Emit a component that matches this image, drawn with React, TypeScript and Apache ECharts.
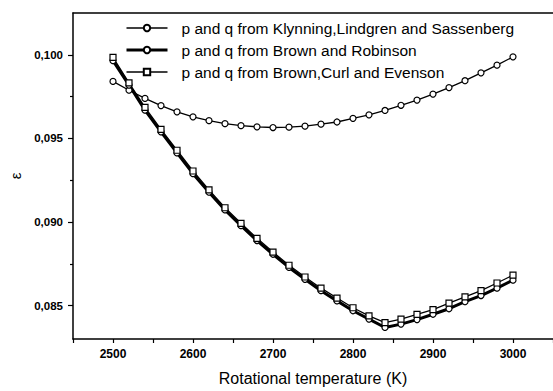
import React, { useEffect, useRef } from "react";
import * as echarts from "echarts";

const temperatures = [
  2500, 2520, 2540, 2560, 2580, 2600, 2620, 2640, 2660, 2680, 2700, 2720, 2740,
  2760, 2780, 2800, 2820, 2840, 2860, 2880, 2900, 2920, 2940, 2960, 2980, 3000,
];

const klynning = [
  0.09841, 0.09788, 0.09739, 0.09696, 0.09659, 0.09629, 0.09606, 0.09588,
  0.09576, 0.09569, 0.09565, 0.09567, 0.09573, 0.09585, 0.09598, 0.0962,
  0.09641, 0.09667, 0.09698, 0.09729, 0.09765, 0.09804, 0.09845, 0.09892,
  0.09938, 0.09988,
];

const brownRobinson = [
  0.09965, 0.09819, 0.09669, 0.09539, 0.09413, 0.09289, 0.09178, 0.09072,
  0.08978, 0.08889, 0.08807, 0.08728, 0.08657, 0.08589, 0.08528, 0.08469,
  0.08419, 0.08369, 0.08389, 0.08416, 0.08448, 0.08481, 0.08523, 0.0856,
  0.08604, 0.08652,
];

const brownCurl = [
  0.09985, 0.09832, 0.09686, 0.09554, 0.09429, 0.09305, 0.09192, 0.09085,
  0.08992, 0.08902, 0.0882, 0.08741, 0.08671, 0.08604, 0.08545, 0.08487,
  0.08438, 0.08398, 0.08419, 0.08447, 0.08476, 0.08514, 0.08552, 0.08589,
  0.08635, 0.08682,
];

const seriesNames = [
  "p and q from Klynning,Lindgren and Sassenberg",
  "p and q from Brown and Robinson",
  "p and q from Brown,Curl and Evenson",
];

const xTickLabels = [2500, 2600, 2700, 2800, 2900, 3000];
const yTickLabels = [0.085, 0.09, 0.095, 0.1];
const yMinorTicks = [0.0875, 0.0925, 0.0975];

const xTitle = "Rotational temperature (K)";
const yTitle = "ε";

const FONT = "'Liberation Sans', Arial, sans-serif";

export default function App() {
  const ref = useRef<HTMLDivElement>(null);

  useEffect(() => {
    if (!ref.current) return;
    const chart = echarts.init(ref.current, undefined, { renderer: "svg" });

    const pairs = (vals: number[]) => temperatures.map((t, i) => [t, vals[i]]);
    const widths = [1.3, 3, 1.3];

    const baseSeries = (name: string, vals: number[], symbol: string, lw: number) => ({
      name,
      type: "line",
      data: pairs(vals),
      symbol,
      symbolSize: 6,
      showSymbol: true,
      lineStyle: { color: "#000", width: lw },
      itemStyle: { color: "#fff", borderColor: "#000", borderWidth: 1.2 },
      emphasis: { disabled: true },
      xAxisIndex: 0,
      yAxisIndex: 0,
      z: 3,
    });

    chart.setOption({
      animation: false,
      backgroundColor: "#fff",
      textStyle: { fontFamily: FONT, color: "#000" },
      grid: { left: 63, right: -9, top: 13, bottom: 46, containLabel: false },
      legend: {
        orient: "vertical",
        left: 125,
        top: 20,
        padding: 0,
        itemWidth: 41,
        itemHeight: 8,
        itemGap: 6,
        data: seriesNames.map((n, i) => ({
          name: n,
          lineStyle: { width: widths[i], color: "#000" },
        })),
        textStyle: {
          fontFamily: FONT,
          fontSize: 15.5,
          lineHeight: 16,
          color: "#000",
          padding: [0, 0, 0, 9],
        },
        selectedMode: false,
      },
      xAxis: [
        {
          type: "value",
          position: "bottom",
          min: 2450,
          max: 3050,
          interval: 50,
          name: xTitle,
          nameLocation: "middle",
          nameGap: 31,
          nameTextStyle: { fontFamily: FONT, fontSize: 16, color: "#000" },
          axisLine: { show: true, onZero: false, lineStyle: { color: "#000", width: 1.5 } },
          axisTick: { show: true, inside: false, length: 4, lineStyle: { color: "#000", width: 1.2 } },
          axisLabel: {
            show: true,
            customValues: xTickLabels,
            margin: 9,
            fontFamily: FONT,
            fontSize: 12,
            fontWeight: "bold",
            color: "#000",
            formatter: (v: number) => String(v),
          },
          splitLine: { show: false },
        },
        {
          type: "value",
          position: "top",
          min: 2450,
          max: 3050,
          axisLine: { show: true, onZero: false, lineStyle: { color: "#000", width: 1.5 } },
          axisTick: { show: false },
          axisLabel: { show: false },
          splitLine: { show: false },
        },
      ],
      yAxis: [
        {
          type: "value",
          position: "left",
          min: 0.083,
          max: 0.1025,
          name: yTitle,
          nameLocation: "middle",
          nameGap: 50,
          nameTextStyle: { fontFamily: FONT, fontSize: 15, color: "#000" },
          axisLine: { show: true, onZero: false, lineStyle: { color: "#000", width: 1.5 } },
          axisTick: {
            show: true,
            inside: false,
            length: 5,
            customValues: yTickLabels,
            lineStyle: { color: "#000", width: 1.2 },
          },
          axisLabel: {
            show: true,
            customValues: yTickLabels,
            margin: 10,
            fontFamily: FONT,
            fontSize: 11.5,
            fontWeight: "bold",
            color: "#000",
            formatter: (v: number) => v.toFixed(3).replace(".", ","),
          },
          splitLine: { show: false },
        },
        {
          type: "value",
          position: "left",
          min: 0.083,
          max: 0.1025,
          axisLine: { show: false },
          axisTick: {
            show: true,
            inside: false,
            length: 3,
            customValues: yMinorTicks,
            lineStyle: { color: "#000", width: 1.2 },
          },
          axisLabel: { show: false },
          splitLine: { show: false },
        },
      ],
      series: [
        baseSeries(seriesNames[0], klynning, "circle", widths[0]),
        baseSeries(seriesNames[1], brownRobinson, "circle", widths[1]),
        baseSeries(seriesNames[2], brownCurl, "rect", widths[2]),
      ],
    });

    return () => chart.dispose();
  }, []);

  return (
    <div
      ref={ref}
      style={{ position: "fixed", left: 0, top: 0, width: 553, height: 391, background: "#fff" }}
    />
  );
}
